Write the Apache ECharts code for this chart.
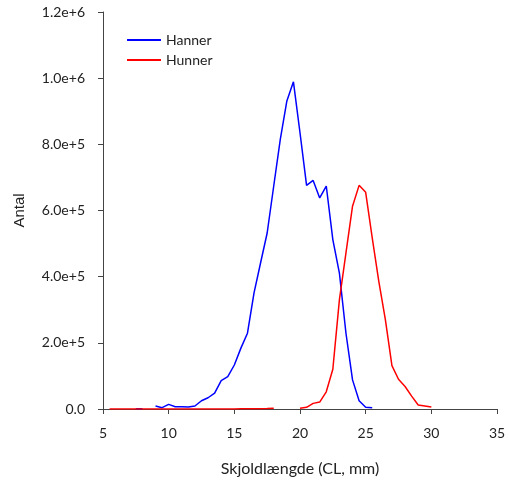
<!DOCTYPE html>
<html>
<head>
<meta charset="utf-8">
<script src="https://cdn.jsdelivr.net/npm/echarts@6/dist/echarts.min.js"></script>
<style>
  html, body { margin: 0; padding: 0; background: #fff; }
  #chart { width: 510px; height: 484px; }
</style>
</head>
<body>
<div id="chart"></div>
<script>
// skjoldlængde (CL, mm), 0.5 mm klasser
var sizeCL = [5.5, 6, 6.5, 7, 7.5, 8, 8.5, 9, 9.5, 10, 10.5, 11, 11.5, 12, 12.5, 13, 13.5, 14, 14.5, 15,
    15.5, 16, 16.5, 17, 17.5, 18, 18.5, 19, 19.5, 20, 20.5, 21, 21.5, 22, 22.5, 23, 23.5, 24, 24.5, 25,
    25.5, 26, 26.5, 27, 27.5, 28, 28.5, 29, 29.5, 30];

var hanner = [null, null, null, null, 1000, 1000, null, 9000, 4000, 14000, 7000, 7000, 6000, 9000, 25000, 34000, 48000, 86000, 98000, 133000,
    184000, 229000, 351000, 442000, 532000, 674000, 815000, 931000, 989000, 835000, 676000, 691000, 638000, 674000, 512000, 411000, 229000, 88000, 25000, 5000,
    4000, null, null, null, null, null, null, null, null, null];

var hunner = [0, 0, 0, 0, 0, 0, 0, 0, 0, 0, 0, 0, 0, 0, 0, 0, 0, 0, 0, 0,
    500, 1000, 1000, 1000, 1500, 2500, null, null, null, 2000, 5000, 17000, 21000, 52000, 120000, 330000, 472000, 613000, 676000, 655000,
    517000, 386000, 270000, 131000, 90000, 68000, 39000, 12000, 9000, 6000];

var yTickLabels = ['0.0', '2.0e+5', '4.0e+5', '6.0e+5', '8.0e+5', '1.0e+6', '1.2e+6'];

function pairs(vals) {
    return sizeCL.map(function (x, i) {
        return [x, vals[i] === null ? '-' : vals[i]];
    });
}

var myChart = echarts.init(document.getElementById("chart"));
var font = 'Lato, "Liberation Sans", sans-serif';

var option = {
    animation: false,
    textStyle: { fontFamily: font, color: '#222' },
    grid: {
        left: 103,
        right: 13,
        top: 12,
        bottom: 75
    },
    legend: {
        orient: 'vertical',
        left: 122,
        top: 28,
        itemWidth: 34,
        itemHeight: 2,
        itemGap: 6,
        icon: 'rect',
        textStyle: { fontSize: 14, color: '#222', fontFamily: font },
        data: ['Hanner', 'Hunner']
    },
    xAxis: {
        type: 'value',
        min: 5,
        max: 35,
        interval: 5,
        name: 'Skjoldlængde (CL, mm)',
        nameLocation: 'middle',
        nameGap: 52,
        nameTextStyle: { fontSize: 16, color: '#222' },
        splitLine: { show: false },
        axisLine: { onZero: false, lineStyle: { color: '#444', width: 1 } },
        axisTick: { show: true, length: 5, lineStyle: { color: '#444' } },
        axisLabel: { fontSize: 14, color: '#222', margin: 17 }
    },
    yAxis: {
        type: 'value',
        min: 0,
        max: 1200000,
        interval: 200000,
        name: 'Antal',
        nameLocation: 'middle',
        nameGap: 76,
        nameTextStyle: { fontSize: 15, color: '#222', fontFamily: '"Liberation Sans", Arial, sans-serif' },
        splitLine: { show: false },
        axisLine: { show: true, lineStyle: { color: '#444', width: 1 } },
        axisTick: { show: true, length: 5, lineStyle: { color: '#444' } },
        axisLabel: {
            fontSize: 14,
            color: '#222',
            margin: 18,
            formatter: function (v) {
                return yTickLabels[Math.round(v / 200000)] || '';
            }
        }
    },
    series: [
        {
            name: 'Hanner',
            type: 'line',
            showSymbol: false,
            connectNulls: false,
            color: '#0000ff',
            lineStyle: { width: 1.5 },
            data: pairs(hanner)
        },
        {
            name: 'Hunner',
            type: 'line',
            showSymbol: false,
            connectNulls: false,
            color: '#ff0000',
            lineStyle: { width: 1.5 },
            data: pairs(hunner)
        }
    ]
};

myChart.setOption(option);
window.addEventListener("resize", function () {
    myChart.resize();
});
</script>
</body>
</html>
